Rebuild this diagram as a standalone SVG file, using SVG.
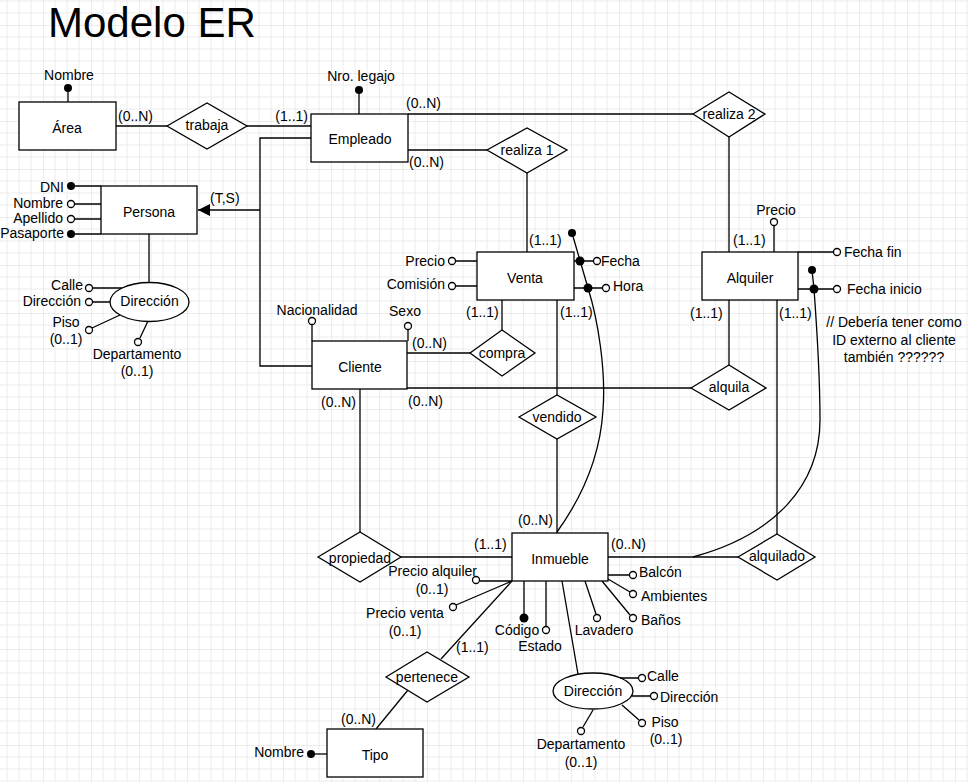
<svg xmlns="http://www.w3.org/2000/svg" width="968" height="782" viewBox="0 0 968 782">
<defs>
<pattern id="grid" width="48" height="48" patternUnits="userSpaceOnUse" x="43" y="25">
<path d="M12,0V48M24,0V48M36,0V48M0,12H48M0,24H48M0,36H48" stroke="#ececec" stroke-width="1" fill="none"/>
<path d="M0,0V48M0,0H48" stroke="#dadada" stroke-width="1" fill="none"/>
</pattern>
<marker id="arr" markerWidth="12" markerHeight="12" refX="10" refY="5" orient="auto" markerUnits="userSpaceOnUse" viewBox="0 0 10 10">
<path d="M0,0L10,5L0,10Z" fill="#000"/>
</marker>
<style>
.l{stroke:#000;stroke-width:1.3;fill:none}
.s{fill:#fff;stroke:#000;stroke-width:1.3}
.t{font-family:"Liberation Sans",Arial,sans-serif;font-size:14px;fill:#000}
.c{text-anchor:middle}
.e{text-anchor:end}
.fd{fill:#000}
.hd{fill:#fff;stroke:#000;stroke-width:1.3}
</style>
</defs>
<rect x="0" y="0" width="968" height="782" fill="#fff"/>
<rect x="0" y="0" width="968" height="782" fill="url(#grid)"/>

<text x="48" y="37" style="font-family:'Liberation Sans',Arial,sans-serif;font-size:42px;fill:#000">Modelo ER</text>

<g id="connectors">
<path class="l" d="M116,126H167"/>
<path class="l" d="M247,126H311"/>
<path class="l" d="M408,114H693"/>
<path class="l" d="M729,137V252"/>
<path class="l" d="M408,150H487"/>
<path class="l" d="M527,173V252"/>
<path class="l" d="M311,138H260V366H312"/>
<path class="l" d="M260,210H198" marker-end="url(#arr)"/>
<path class="l" d="M407,353H470"/>
<path class="l" d="M502,330V300"/>
<path class="l" d="M407,388H691"/>
<path class="l" d="M360,389V532"/>
<path class="l" d="M557,300V395"/>
<path class="l" d="M557,439V533"/>
<path class="l" d="M729,300V365"/>
<path class="l" d="M777,300V534"/>
<path class="l" d="M608,557H738"/>
<path class="l" d="M401,557H512"/>
<path class="l" d="M512,581L441,659"/>
<path class="l" d="M408,690L376,729"/>
<path class="l" d="M572,233L588,288C598,320 606,370 603,410C600,460 580,500 557,532"/>
<path class="l" d="M812,270L814,289C817,330 820,380 820,420C820,485 775,535 693,557"/>
<g class="t">
<text x="118" y="121">(0..N)</text>
<text x="308" y="121" class="e">(1..1)</text>
<text x="406" y="108">(0..N)</text>
<text x="409" y="167">(0..N)</text>
<text x="210" y="203">(T,S)</text>
<text x="529" y="245">(1..1)</text>
<text x="733" y="245">(1..1)</text>
<text x="412" y="348">(0..N)</text>
<text x="466" y="317">(1..1)</text>
<text x="560" y="317">(1..1)</text>
<text x="690" y="318">(1..1)</text>
<text x="779" y="318">(1..1)</text>
<text x="321" y="407">(0..N)</text>
<text x="408" y="406">(0..N)</text>
<text x="518" y="525">(0..N)</text>
<text x="474" y="549">(1..1)</text>
<text x="611" y="549">(0..N)</text>
<text x="456" y="652">(1..1)</text>
<text x="341" y="724">(0..N)</text>
</g>
</g>

<g id="area">
<rect class="s" x="19" y="102" width="97" height="48"/>
<text class="t c" x="67" y="133">Área</text>
<path class="l" d="M68,88V102"/>
<circle class="fd" cx="68" cy="88" r="4"/>
<text class="t c" x="69" y="80">Nombre</text>
</g>

<g id="trabaja">
<polygon class="s" points="167,126 207,103 247,126 207,149"/>
<text class="t c" x="207" y="130">trabaja</text>
</g>

<g id="empleado">
<rect class="s" x="311" y="114" width="97" height="48"/>
<text class="t c" x="360" y="144">Empleado</text>
<path class="l" d="M359,90V114"/>
<circle class="fd" cx="359" cy="90" r="4"/>
<text class="t c" x="361" y="81">Nro. legajo</text>
</g>

<g id="realiza1">
<polygon class="s" points="487,150 527,128 567,150 527,173"/>
<text class="t c" x="527" y="155">realiza 1</text>
</g>

<g id="realiza2">
<polygon class="s" points="693,114 729,92 765,114 729,137"/>
<text class="t c" x="729" y="119">realiza 2</text>
</g>

<g id="persona">
<rect class="s" x="101" y="186" width="96" height="48"/>
<text class="t c" x="149" y="217">Persona</text>
<path class="l" d="M75,186H101M75,204H101M75,219H101M75,234H101M149,234V283"/>
<circle class="fd" cx="71" cy="186" r="4"/>
<circle class="hd" cx="71" cy="204" r="3.5"/>
<circle class="hd" cx="71" cy="219" r="3.5"/>
<circle class="fd" cx="71" cy="234" r="4"/>
<text class="t e" x="64" y="192">DNI</text>
<text class="t e" x="63" y="208">Nombre</text>
<text class="t e" x="63" y="223">Apellido</text>
<text class="t e" x="64" y="238">Pasaporte</text>
</g>

<g id="direccion-persona">
<ellipse class="s" cx="149.5" cy="302" rx="39.5" ry="19.5"/>
<text class="t c" x="149.5" y="306">Dirección</text>
<path class="l" d="M93,288H122M93,302H110M92,328L120,315M140,338L148,321"/>
<circle class="hd" cx="89" cy="288" r="3.5"/>
<circle class="hd" cx="89" cy="302" r="3.5"/>
<circle class="hd" cx="89" cy="330" r="3.5"/>
<circle class="hd" cx="138" cy="342" r="3.5"/>
<text class="t e" x="83" y="290">Calle</text>
<text class="t e" x="81" y="306">Dirección</text>
<text class="t c" x="66" y="327">Piso</text>
<text class="t c" x="66" y="344">(0..1)</text>
<text class="t c" x="137" y="359">Departamento</text>
<text class="t c" x="137" y="376">(0..1)</text>
</g>

<g id="cliente">
<rect class="s" x="312" y="341" width="95" height="48"/>
<text class="t c" x="360" y="372">Cliente</text>
<path class="l" d="M312,325V341M408,330V341"/>
<circle class="hd" cx="312" cy="321" r="3.5"/>
<circle class="hd" cx="408" cy="326" r="3.5"/>
<text class="t c" x="317" y="315">Nacionalidad</text>
<text class="t c" x="405" y="316">Sexo</text>
</g>

<g id="compra">
<polygon class="s" points="470,353 502,330 535,353 502,376"/>
<text class="t c" x="502" y="358">compra</text>
</g>

<g id="venta">
<rect class="s" x="477" y="252" width="97" height="48"/>
<text class="t c" x="525" y="283">Venta</text>
<path class="l" d="M456,261H477M456,286H477M574,261H593M574,288H602"/>
<circle class="hd" cx="452" cy="261" r="3.5"/>
<circle class="hd" cx="452" cy="286" r="3.5"/>
<circle class="fd" cx="580" cy="261" r="4.5"/>
<circle class="fd" cx="588" cy="288" r="4.5"/>
<circle class="fd" cx="572" cy="233" r="4"/>
<circle class="hd" cx="597" cy="261" r="3.5"/>
<circle class="hd" cx="606" cy="288" r="3.5"/>
<text class="t e" x="445" y="266">Precio</text>
<text class="t e" x="445" y="289">Comisión</text>
<text class="t" x="601" y="266">Fecha</text>
<text class="t" x="613" y="291">Hora</text>
</g>

<g id="vendido">
<polygon class="s" points="519,417 557,395 596,417 557,439"/>
<text class="t c" x="557" y="422">vendido</text>
</g>

<g id="alquiler">
<rect class="s" x="702" y="252" width="96" height="48"/>
<text class="t c" x="750" y="283">Alquiler</text>
<path class="l" d="M774,226V252M798,252H833M798,289H833"/>
<circle class="hd" cx="774" cy="222" r="3.5"/>
<circle class="hd" cx="837" cy="252" r="3.5"/>
<circle class="fd" cx="814" cy="289" r="4.5"/>
<circle class="fd" cx="812" cy="270" r="4"/>
<circle class="hd" cx="837" cy="289" r="3.5"/>
<text class="t c" x="776" y="215">Precio</text>
<text class="t" x="844" y="257">Fecha fin</text>
<text class="t" x="847" y="294">Fecha inicio</text>
</g>

<g id="comentario" class="t c">
<text x="894" y="327">// Debería tener como</text>
<text x="894" y="345">ID externo al cliente</text>
<text x="894" y="362">también ??????</text>
</g>

<g id="alquila">
<polygon class="s" points="691,388 729,365 766,388 729,410"/>
<text class="t c" x="729" y="392">alquila</text>
</g>

<g id="alquilado">
<polygon class="s" points="738,557 777,534 815,557 777,580"/>
<text class="t c" x="777" y="561">alquilado</text>
</g>

<g id="propiedad">
<polygon class="s" points="318,557 360,532 401,557 360,582"/>
<text class="t c" x="360" y="563">propiedad</text>
</g>

<g id="inmueble">
<path class="l" d="M480,581H512M512,581L456,605M524,581V614M546,581V626M562,581L578,674M585,581L596,614M602,581L630,615M608,579L630,592M608,575H629"/>
<rect class="s" x="512" y="533" width="96" height="48"/>
<text class="t c" x="560" y="564">Inmueble</text>
<circle class="hd" cx="476" cy="580" r="3.5"/>
<circle class="hd" cx="453" cy="607" r="3.5"/>
<circle class="fd" cx="524" cy="618" r="4.5"/>
<circle class="hd" cx="546" cy="630" r="3.5"/>
<circle class="hd" cx="597" cy="618" r="3.5"/>
<circle class="hd" cx="633" cy="618" r="3.5"/>
<circle class="hd" cx="633" cy="594" r="3.5"/>
<circle class="hd" cx="633" cy="575" r="3.5"/>
<text class="t e" x="477" y="576">Precio alquiler</text>
<text class="t c" x="432" y="594">(0..1)</text>
<text class="t c" x="405" y="618">Precio venta</text>
<text class="t c" x="405" y="636">(0..1)</text>
<text class="t c" x="517" y="635">Código</text>
<text class="t c" x="540" y="651">Estado</text>
<text class="t c" x="604" y="635">Lavadero</text>
<text class="t" x="641" y="625">Baños</text>
<text class="t" x="641" y="601">Ambientes</text>
<text class="t" x="639" y="577">Balcón</text>
</g>

<g id="direccion-inmueble">
<ellipse class="s" cx="593" cy="691" rx="40" ry="18"/>
<text class="t c" x="593" y="696">Dirección</text>
<path class="l" d="M620,678H638M632,696H650M622,705L639,720M593,710L583,727"/>
<circle class="hd" cx="642" cy="678" r="3.5"/>
<circle class="hd" cx="654" cy="696" r="3.5"/>
<circle class="hd" cx="642" cy="723" r="3.5"/>
<circle class="hd" cx="581" cy="731" r="3.5"/>
<text class="t" x="647" y="681">Calle</text>
<text class="t" x="660" y="702">Dirección</text>
<text class="t c" x="665" y="727">Piso</text>
<text class="t c" x="666" y="744">(0..1)</text>
<text class="t c" x="581" y="749">Departamento</text>
<text class="t c" x="581" y="767">(0..1)</text>
</g>

<g id="pertenece">
<polygon class="s" points="386,677 427,652 469,677 427,702"/>
<text class="t c" x="427" y="682">pertenece</text>
</g>

<g id="tipo">
<rect class="s" x="327" y="729" width="96" height="48"/>
<text class="t c" x="375" y="760">Tipo</text>
<path class="l" d="M311,754H327"/>
<circle class="fd" cx="311" cy="754" r="4"/>
<text class="t e" x="304" y="757">Nombre</text>
</g>
</svg>
